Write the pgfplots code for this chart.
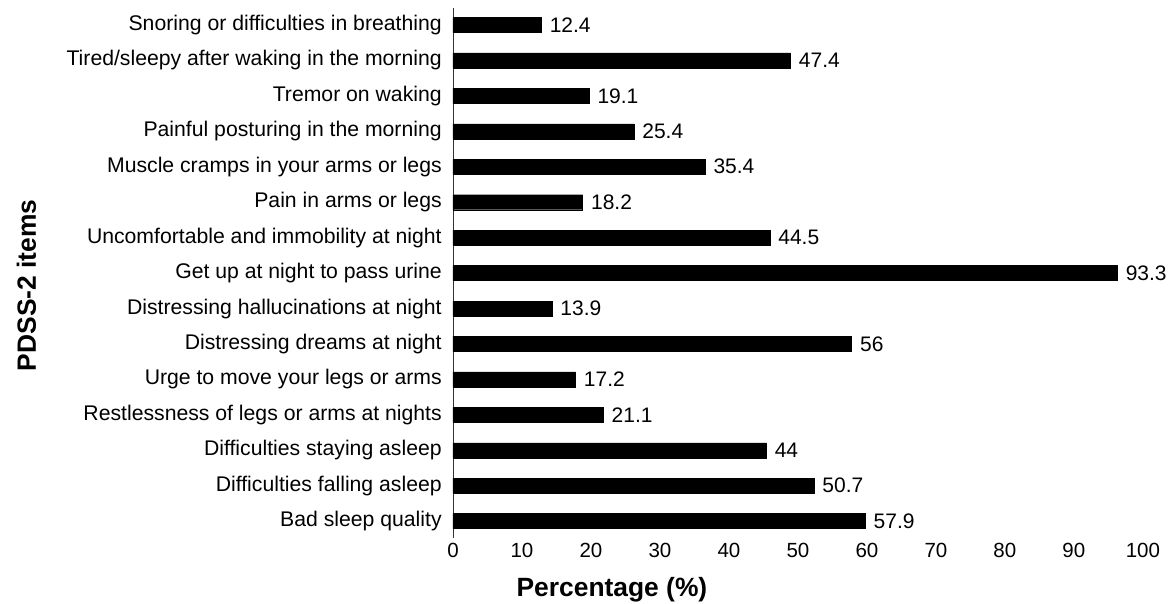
\documentclass[border=0pt]{standalone}
\usepackage{fontspec}
\setmainfont{Liberation Sans}
\usepackage{pgfplots}
\pgfplotsset{compat=1.18}
\begin{document}
\begin{tikzpicture}
\begin{axis}[
  scale only axis, width=690.6pt, height=530pt,
  xbar, bar width=15pt,
  xmin=0, xmax=97, ymin=-0.475, ymax=14.48,
  axis lines*=left,
  x axis line style={draw=none},
  y axis line style={line width=0.9pt, black!80},
  xtick style={draw=none}, ytick style={draw=none},
  xtick={0,9.69,19.38,29.07,38.76,48.45,58.14,67.83,77.52,87.21,96.9},
  xticklabels={0,10,20,30,40,50,60,70,80,90,100},
  ytick={0,...,14},
  yticklabels={Bad sleep quality, Difficulties falling asleep, Difficulties staying asleep, Restlessness of legs or arms at nights, Urge to move your legs or arms, Distressing dreams at night, Distressing hallucinations at night, Get up at night to pass urine, Uncomfortable and immobility at night, Pain in arms or legs, Muscle cramps in your arms or legs, Painful posturing in the morning, Tremor on waking, Tired/sleepy after waking in the morning, Snoring or difficulties in breathing},
  yticklabel style={font=\fontsize{21.2}{24}\selectfont, anchor=east, xshift=-3.5pt},
  xticklabel style={font=\fontsize{20.5}{24}\selectfont, anchor=base, yshift=-20pt},
  xlabel={\bfseries Percentage (\%)},
  xlabel style={font=\fontsize{26.4}{30}\selectfont, at={(axis description cs:0.2302,0)}, anchor=base, yshift=-59pt},
  ylabel={\bfseries PDSS-2 items},
  ylabel style={font=\fontsize{26.4}{30}\selectfont, at={(axis description cs:-0.6176,0.477)}, anchor=center, rotate=0},
  point meta=explicit symbolic,
  nodes near coords,
  nodes near coords style={font=\fontsize{21}{24}\selectfont, anchor=west, xshift=5pt, black},
]
\addplot[fill=black, draw=black] coordinates {
  (57.9,0) [57.9]
  (50.7,1) [50.7]
  (44,2) [44]
  (21.1,3) [21.1]
  (17.2,4) [17.2]
  (56,5) [56]
  (13.9,6) [13.9]
  (93.3,7) [93.3]
  (44.5,8) [44.5]
  (18.2,9) [18.2]
  (35.4,10) [35.4]
  (25.4,11) [25.4]
  (19.1,12) [19.1]
  (47.4,13) [47.4]
  (12.4,14) [12.4]
};
\end{axis}
\pgfresetboundingbox
\path ([xshift=-453pt,yshift=8pt]current axis.north west) rectangle ([xshift=720pt,yshift=-66pt]current axis.south west);
\end{tikzpicture}
\end{document}
